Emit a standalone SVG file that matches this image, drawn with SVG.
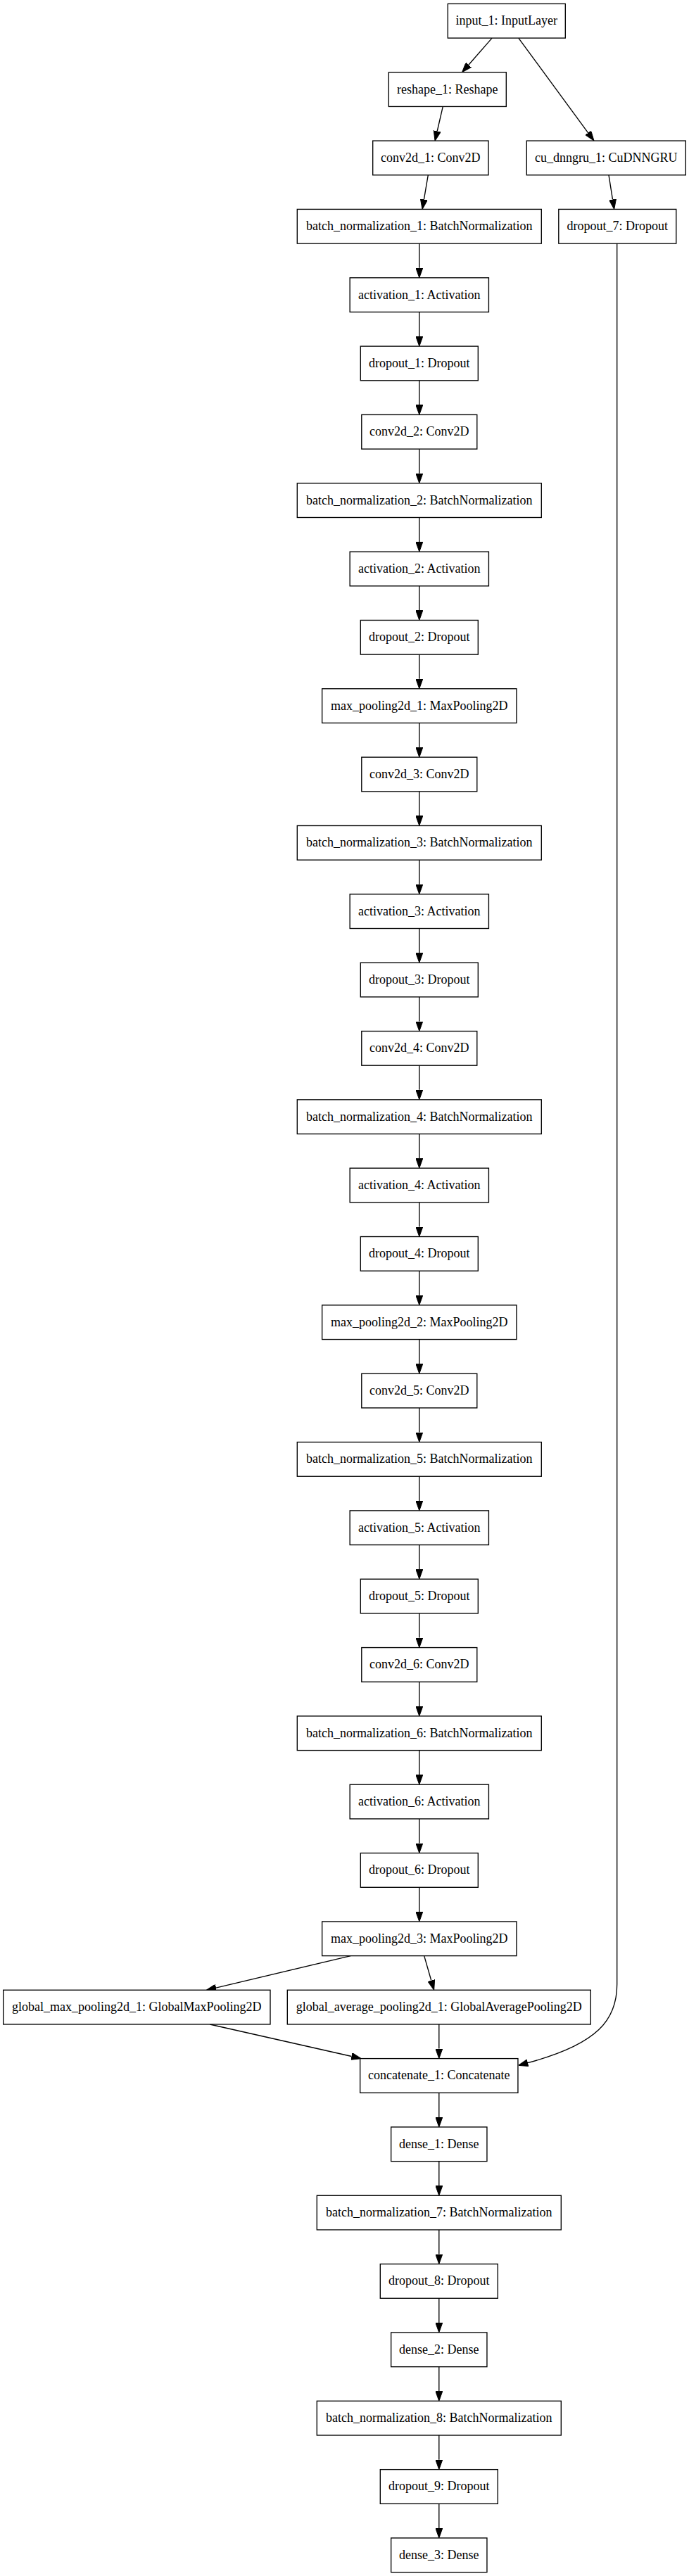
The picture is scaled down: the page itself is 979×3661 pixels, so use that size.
<svg xmlns="http://www.w3.org/2000/svg" width="979" height="3661" viewBox="0 0 979 3661">
<style>
.node rect{fill:#fff;stroke:#000;stroke-width:1.35}
.node text{font-family:"Liberation Serif","Times New Roman",serif;font-size:18px;fill:#000;text-anchor:middle}
#edges path{fill:none;stroke:#000;stroke-width:1.35;marker-end:url(#ah)}
</style>
<defs>
<marker id="ah" markerWidth="14" markerHeight="10" refX="0" refY="5" orient="auto" markerUnits="userSpaceOnUse"><path d="M0,0 L14,5 L0,10 z" fill="#000" stroke="#000" stroke-width="1"/></marker>
</defs>
<rect x="0" y="0" width="979" height="3661" fill="#fff"/>
<g id="edges">
<path d="M699.1,54.1 L665.8,92.2"/>
<path d="M736.8,54.1 L835.7,188.8"/>
<path d="M629.3,151.4 L621.2,186.5"/>
<path d="M608.3,248.8 L602.4,283.6"/>
<path d="M865,248.8 L870.5,283.6"/>
<path d="M876.7,346.1 L876.7,2820 C876.7,2870 850,2905 750,2931.7"/>
<path d="M595.8,346.12 V380.76"/>
<path d="M595.8,443.46 V478.10"/>
<path d="M595.8,540.80 V575.44"/>
<path d="M595.8,638.14 V672.78"/>
<path d="M595.8,735.48 V770.12"/>
<path d="M595.8,832.82 V867.46"/>
<path d="M595.8,930.16 V964.80"/>
<path d="M595.8,1027.50 V1062.14"/>
<path d="M595.8,1124.84 V1159.48"/>
<path d="M595.8,1222.18 V1256.82"/>
<path d="M595.8,1319.52 V1354.16"/>
<path d="M595.8,1416.86 V1451.50"/>
<path d="M595.8,1514.20 V1548.84"/>
<path d="M595.8,1611.54 V1646.18"/>
<path d="M595.8,1708.88 V1743.52"/>
<path d="M595.8,1806.22 V1840.86"/>
<path d="M595.8,1903.56 V1938.20"/>
<path d="M595.8,2000.90 V2035.54"/>
<path d="M595.8,2098.24 V2132.88"/>
<path d="M595.8,2195.58 V2230.22"/>
<path d="M595.8,2292.92 V2327.56"/>
<path d="M595.8,2390.26 V2424.90"/>
<path d="M595.8,2487.60 V2522.24"/>
<path d="M595.8,2584.94 V2619.58"/>
<path d="M595.8,2682.28 V2716.92"/>
<path d="M498.3,2779.6 L306.9,2825.1"/>
<path d="M602.7,2779.6 L612.8,2814.8"/>
<path d="M298.3,2877 L499.6,2922.5"/>
<path d="M623.8,2876.96 V2911.60"/>
<path d="M623.8,2974.30 V3008.94"/>
<path d="M623.8,3071.64 V3106.28"/>
<path d="M623.8,3168.98 V3203.62"/>
<path d="M623.8,3266.32 V3300.96"/>
<path d="M623.8,3363.66 V3398.30"/>
<path d="M623.8,3461.00 V3495.64"/>
<path d="M623.8,3558.34 V3592.98"/>
</g>
<g id="input_1" class="node"><rect x="636.3" y="5.4" width="167" height="48.7"/><text x="719.8" y="35.25">input_1: InputLayer</text></g>
<g id="reshape_1" class="node"><rect x="552.3" y="102.74" width="167" height="48.7"/><text x="635.8" y="132.59">reshape_1: Reshape</text></g>
<g id="conv2d_1" class="node"><rect x="529.7" y="200.08" width="164.3" height="48.7"/><text x="611.85" y="229.93">conv2d_1: Conv2D</text></g>
<g id="cu_dnngru_1" class="node"><rect x="748.3" y="200.08" width="226" height="48.7"/><text x="861.3" y="229.93">cu_dnngru_1: CuDNNGRU</text></g>
<g id="batch_normalization_1" class="node"><rect x="422.3" y="297.42" width="347" height="48.7"/><text x="595.8" y="327.27">batch_normalization_1: BatchNormalization</text></g>
<g id="dropout_7" class="node"><rect x="793.8" y="297.42" width="167" height="48.7"/><text x="877.3" y="327.27">dropout_7: Dropout</text></g>
<g id="activation_1" class="node"><rect x="497.15" y="394.76" width="197.3" height="48.7"/><text x="595.8" y="424.61">activation_1: Activation</text></g>
<g id="dropout_1" class="node"><rect x="512.3" y="492.10" width="167" height="48.7"/><text x="595.8" y="521.95">dropout_1: Dropout</text></g>
<g id="conv2d_2" class="node"><rect x="513.8" y="589.44" width="164" height="48.7"/><text x="595.8" y="619.29">conv2d_2: Conv2D</text></g>
<g id="batch_normalization_2" class="node"><rect x="422.3" y="686.78" width="347" height="48.7"/><text x="595.8" y="716.63">batch_normalization_2: BatchNormalization</text></g>
<g id="activation_2" class="node"><rect x="497.15" y="784.12" width="197.3" height="48.7"/><text x="595.8" y="813.97">activation_2: Activation</text></g>
<g id="dropout_2" class="node"><rect x="512.3" y="881.46" width="167" height="48.7"/><text x="595.8" y="911.31">dropout_2: Dropout</text></g>
<g id="max_pooling2d_1" class="node"><rect x="457.65" y="978.80" width="276.3" height="48.7"/><text x="595.8" y="1008.65">max_pooling2d_1: MaxPooling2D</text></g>
<g id="conv2d_3" class="node"><rect x="513.8" y="1076.14" width="164" height="48.7"/><text x="595.8" y="1105.99">conv2d_3: Conv2D</text></g>
<g id="batch_normalization_3" class="node"><rect x="422.3" y="1173.48" width="347" height="48.7"/><text x="595.8" y="1203.33">batch_normalization_3: BatchNormalization</text></g>
<g id="activation_3" class="node"><rect x="497.15" y="1270.82" width="197.3" height="48.7"/><text x="595.8" y="1300.67">activation_3: Activation</text></g>
<g id="dropout_3" class="node"><rect x="512.3" y="1368.16" width="167" height="48.7"/><text x="595.8" y="1398.01">dropout_3: Dropout</text></g>
<g id="conv2d_4" class="node"><rect x="513.8" y="1465.50" width="164" height="48.7"/><text x="595.8" y="1495.35">conv2d_4: Conv2D</text></g>
<g id="batch_normalization_4" class="node"><rect x="422.3" y="1562.84" width="347" height="48.7"/><text x="595.8" y="1592.69">batch_normalization_4: BatchNormalization</text></g>
<g id="activation_4" class="node"><rect x="497.15" y="1660.18" width="197.3" height="48.7"/><text x="595.8" y="1690.03">activation_4: Activation</text></g>
<g id="dropout_4" class="node"><rect x="512.3" y="1757.52" width="167" height="48.7"/><text x="595.8" y="1787.37">dropout_4: Dropout</text></g>
<g id="max_pooling2d_2" class="node"><rect x="457.65" y="1854.86" width="276.3" height="48.7"/><text x="595.8" y="1884.71">max_pooling2d_2: MaxPooling2D</text></g>
<g id="conv2d_5" class="node"><rect x="513.8" y="1952.20" width="164" height="48.7"/><text x="595.8" y="1982.05">conv2d_5: Conv2D</text></g>
<g id="batch_normalization_5" class="node"><rect x="422.3" y="2049.54" width="347" height="48.7"/><text x="595.8" y="2079.39">batch_normalization_5: BatchNormalization</text></g>
<g id="activation_5" class="node"><rect x="497.15" y="2146.88" width="197.3" height="48.7"/><text x="595.8" y="2176.73">activation_5: Activation</text></g>
<g id="dropout_5" class="node"><rect x="512.3" y="2244.22" width="167" height="48.7"/><text x="595.8" y="2274.07">dropout_5: Dropout</text></g>
<g id="conv2d_6" class="node"><rect x="513.8" y="2341.56" width="164" height="48.7"/><text x="595.8" y="2371.41">conv2d_6: Conv2D</text></g>
<g id="batch_normalization_6" class="node"><rect x="422.3" y="2438.90" width="347" height="48.7"/><text x="595.8" y="2468.75">batch_normalization_6: BatchNormalization</text></g>
<g id="activation_6" class="node"><rect x="497.15" y="2536.24" width="197.3" height="48.7"/><text x="595.8" y="2566.09">activation_6: Activation</text></g>
<g id="dropout_6" class="node"><rect x="512.3" y="2633.58" width="167" height="48.7"/><text x="595.8" y="2663.43">dropout_6: Dropout</text></g>
<g id="max_pooling2d_3" class="node"><rect x="457.65" y="2730.92" width="276.3" height="48.7"/><text x="595.8" y="2760.77">max_pooling2d_3: MaxPooling2D</text></g>
<g id="global_max_pooling2d_1" class="node"><rect x="4.7" y="2828.26" width="379.3" height="48.7"/><text x="194.35" y="2858.11">global_max_pooling2d_1: GlobalMaxPooling2D</text></g>
<g id="global_average_pooling2d_1" class="node"><rect x="408.3" y="2828.26" width="431" height="48.7"/><text x="623.8" y="2858.11">global_average_pooling2d_1: GlobalAveragePooling2D</text></g>
<g id="concatenate_1" class="node"><rect x="511.65" y="2925.60" width="224.3" height="48.7"/><text x="623.8" y="2955.45">concatenate_1: Concatenate</text></g>
<g id="dense_1" class="node"><rect x="555.65" y="3022.94" width="136.3" height="48.7"/><text x="623.8" y="3052.79">dense_1: Dense</text></g>
<g id="batch_normalization_7" class="node"><rect x="450.3" y="3120.28" width="347" height="48.7"/><text x="623.8" y="3150.13">batch_normalization_7: BatchNormalization</text></g>
<g id="dropout_8" class="node"><rect x="540.3" y="3217.62" width="167" height="48.7"/><text x="623.8" y="3247.47">dropout_8: Dropout</text></g>
<g id="dense_2" class="node"><rect x="555.65" y="3314.96" width="136.3" height="48.7"/><text x="623.8" y="3344.81">dense_2: Dense</text></g>
<g id="batch_normalization_8" class="node"><rect x="450.3" y="3412.30" width="347" height="48.7"/><text x="623.8" y="3442.15">batch_normalization_8: BatchNormalization</text></g>
<g id="dropout_9" class="node"><rect x="540.3" y="3509.64" width="167" height="48.7"/><text x="623.8" y="3539.49">dropout_9: Dropout</text></g>
<g id="dense_3" class="node"><rect x="555.65" y="3606.98" width="136.3" height="48.7"/><text x="623.8" y="3636.83">dense_3: Dense</text></g>
</svg>
